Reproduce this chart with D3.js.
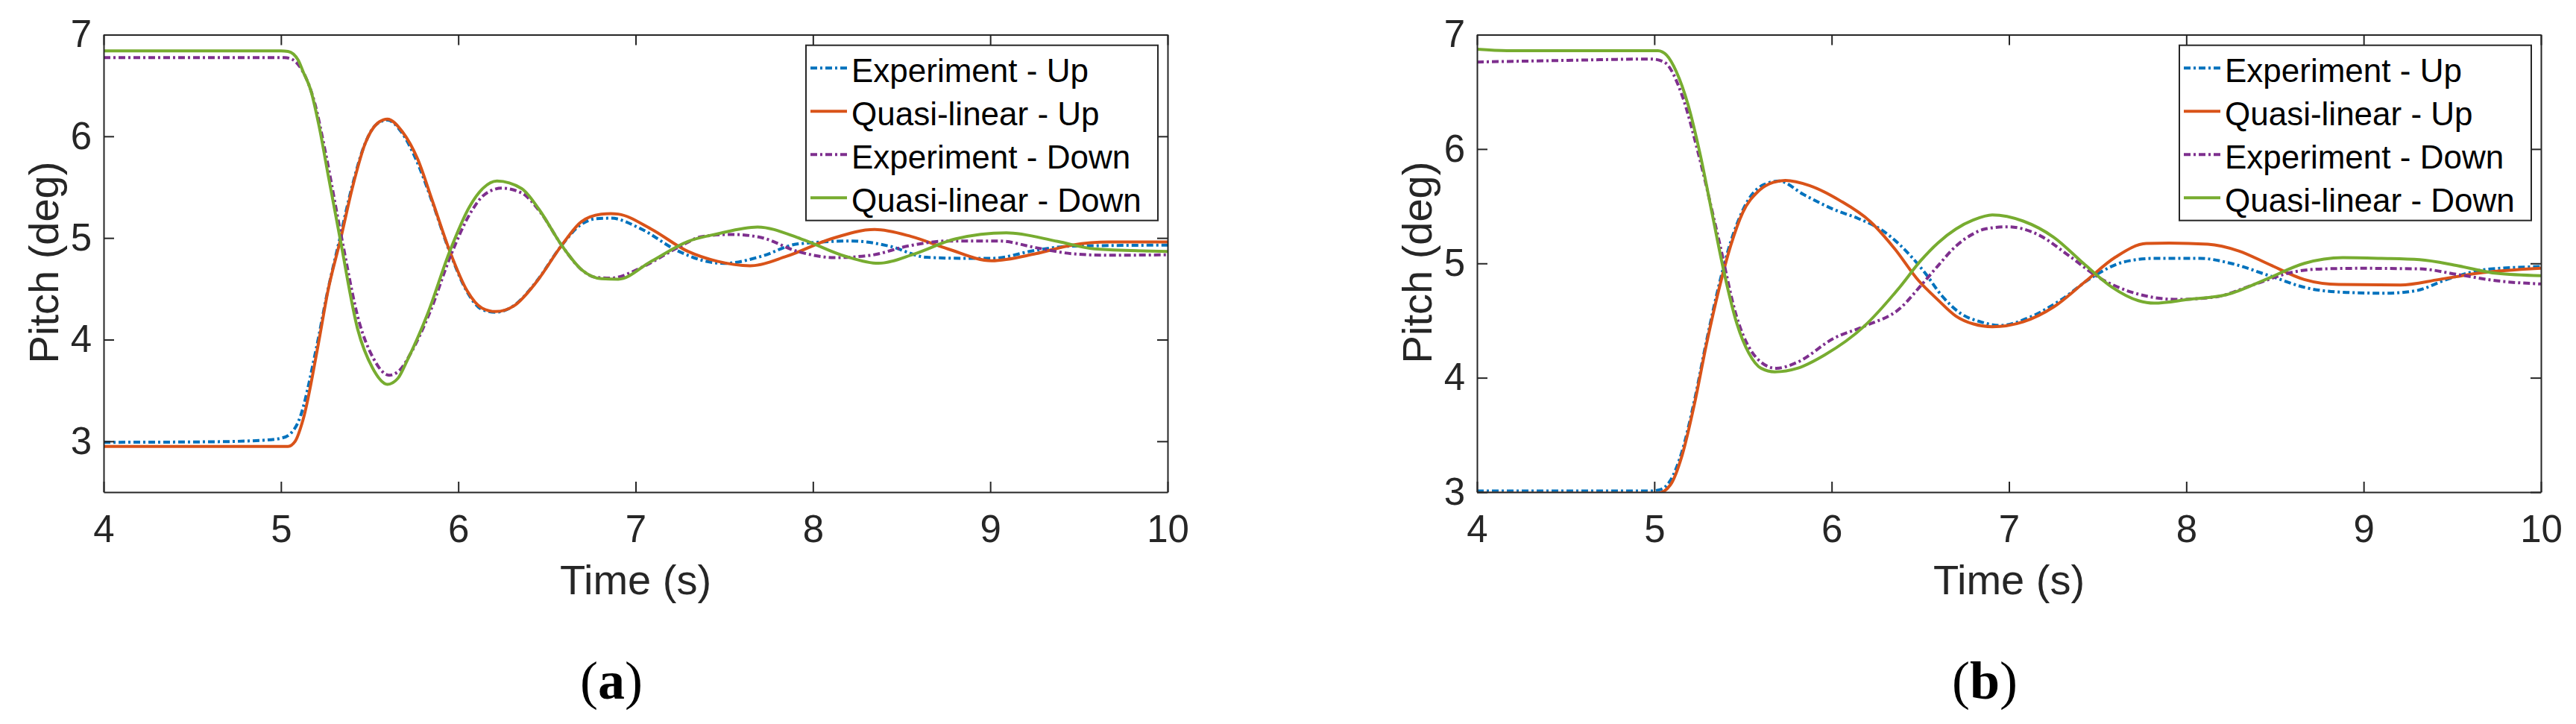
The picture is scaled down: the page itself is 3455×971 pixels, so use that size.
<!DOCTYPE html>
<html>
<head>
<meta charset="utf-8">
<script src="https://cdn.jsdelivr.net/npm/d3@7"></script>
<style>
  body { margin: 0; background: #fff; }
  svg { display: block; }
  .tick text { font-family: "Liberation Sans", Arial, sans-serif; fill: #262626; }
</style>
</head>
<body>
<div id="chart"></div>
<script>
// series names and tick values
var seriesNames = ['Experiment - Up', 'Quasi-linear - Up', 'Experiment - Down', 'Quasi-linear - Down'];
var xTicks = [4, 5, 6, 7, 8, 9, 10];
var yTicksA = [3, 4, 5, 6, 7];
var yTicksB = [3, 4, 5, 6, 7];
var panelLabels = ['a', 'b'];

// panel (a): [time (s), pitch (deg)]
var aExpUp = [[4, 2.99], [4.6, 2.995], [4.9, 3.01], [5.0, 3.03], [5.05, 3.07], [5.1, 3.2], [5.2, 3.92], [5.26, 4.45],
  [5.33, 4.98], [5.40, 5.5], [5.47, 5.91], [5.54, 6.12], [5.60, 6.16], [5.68, 6.04], [5.76, 5.78], [5.85, 5.37],
  [5.95, 4.87], [6.05, 4.47], [6.13, 4.30], [6.21, 4.27], [6.31, 4.33], [6.44, 4.57], [6.58, 4.92], [6.69, 5.13],
  [6.78, 5.19], [6.86, 5.195], [7.03, 5.09], [7.23, 4.88], [7.40, 4.77], [7.50, 4.75], [7.71, 4.82], [7.91, 4.94],
  [8.22, 4.97], [8.43, 4.92], [8.64, 4.81], [8.84, 4.80], [9.01, 4.80], [9.26, 4.88], [9.46, 4.92], [10, 4.93]];
var aQlUp = [[4, 2.95], [5.04, 2.95], [5.08, 3.0], [5.125, 3.215], [5.21, 3.95], [5.265, 4.48], [5.335, 4.98],
  [5.405, 5.51], [5.475, 5.93], [5.545, 6.13], [5.60, 6.17], [5.685, 6.045], [5.77, 5.78], [5.853, 5.37],
  [5.952, 4.87], [6.05, 4.48], [6.134, 4.31], [6.211, 4.276], [6.316, 4.335], [6.442, 4.57], [6.582, 4.925],
  [6.694, 5.16], [6.806, 5.234], [6.86, 5.24], [6.902, 5.235], [7.088, 5.088], [7.295, 4.868], [7.46, 4.771],
  [7.646, 4.727], [7.852, 4.82], [8.1, 4.99], [8.348, 5.083], [8.554, 5.015], [8.76, 4.893], [9.008, 4.776],
  [9.256, 4.845], [9.462, 4.93], [9.668, 4.96], [10, 4.96]];
var aExpDown = [[4, 6.775], [5.02, 6.775], [5.06, 6.76], [5.1, 6.70], [5.14, 6.58], [5.19, 6.33], [5.25, 5.85],
  [5.34, 5.02], [5.44, 4.18], [5.52, 3.82], [5.61, 3.65], [5.67, 3.70], [5.73, 3.86], [5.84, 4.27], [5.96, 4.84],
  [6.07, 5.25], [6.15, 5.43], [6.246, 5.49], [6.36, 5.44], [6.46, 5.26], [6.59, 4.91], [6.70, 4.68], [6.778, 4.612],
  [6.86, 4.605], [7.047, 4.722], [7.253, 4.92], [7.377, 5.015], [7.542, 5.035], [7.707, 5.005], [7.914, 4.868],
  [8.121, 4.807], [8.327, 4.83], [8.534, 4.92], [8.76, 4.97], [9.05, 4.97], [9.256, 4.905], [9.462, 4.845],
  [9.668, 4.83], [10, 4.835]];
var aQlDown = [[4, 6.84], [5.0, 6.84], [5.04, 6.835], [5.097, 6.75], [5.125, 6.635], [5.167, 6.46], [5.215, 6.1],
  [5.265, 5.63], [5.335, 4.98], [5.433, 4.10], [5.517, 3.72], [5.601, 3.56], [5.66, 3.62], [5.713, 3.80],
  [5.826, 4.25], [5.952, 4.87], [6.064, 5.31], [6.14, 5.49], [6.218, 5.56], [6.358, 5.485], [6.456, 5.28],
  [6.582, 4.93], [6.694, 4.69], [6.806, 4.60], [6.902, 4.595], [7.088, 4.77], [7.295, 4.966], [7.46, 5.04],
  [7.687, 5.108], [7.935, 4.99], [8.183, 4.82], [8.369, 4.751], [8.575, 4.845], [8.802, 4.99], [9.091, 5.05],
  [9.38, 4.966], [9.586, 4.893], [10, 4.868]];

// panel (b): [time (s), pitch (deg)]
var bExpUp = [[4, 3.01], [4.98, 3.01], [5.03, 3.02], [5.09, 3.1], [5.157, 3.36], [5.226, 3.8], [5.294, 4.32],
  [5.363, 4.8], [5.431, 5.19], [5.465, 5.341], [5.54, 5.58], [5.62, 5.69], [5.704, 5.72], [5.841, 5.603],
  [6.012, 5.472], [6.149, 5.393], [6.285, 5.289], [6.388, 5.157], [6.524, 4.922], [6.62, 4.72], [6.73, 4.56],
  [6.84, 4.489], [6.949, 4.457], [7.123, 4.533], [7.297, 4.685], [7.47, 4.88], [7.644, 5.011], [7.818, 5.044],
  [8.078, 5.044], [8.252, 5.0], [8.469, 4.892], [8.686, 4.783], [8.904, 4.746], [9.121, 4.739], [9.295, 4.761],
  [9.468, 4.859], [9.685, 4.946], [10, 4.972]];
var bQlUp = [[4, 2.99], [5.02, 2.99], [5.09, 3.062], [5.157, 3.324], [5.226, 3.769], [5.294, 4.293], [5.363, 4.765],
  [5.431, 5.157], [5.499, 5.446], [5.585, 5.629], [5.67, 5.708], [5.739, 5.726], [5.875, 5.681], [6.046, 5.55],
  [6.217, 5.367], [6.354, 5.131], [6.49, 4.85], [6.6, 4.68], [6.7, 4.54], [6.8, 4.47], [6.906, 4.446],
  [7.08, 4.489], [7.253, 4.62], [7.427, 4.837], [7.601, 5.055], [7.774, 5.174], [7.904, 5.178], [8.121, 5.168],
  [8.296, 5.109], [8.469, 4.99], [8.665, 4.859], [8.86, 4.815], [9.207, 4.811], [9.425, 4.859], [9.642, 4.913],
  [10, 4.957]];
var bExpDown = [[4, 6.761], [4.5, 6.775], [4.986, 6.787], [5.056, 6.76], [5.157, 6.467], [5.25, 5.95],
  [5.363, 5.21], [5.465, 4.529], [5.602, 4.136], [5.687, 4.083], [5.807, 4.136], [6.012, 4.345], [6.183, 4.45],
  [6.388, 4.61], [6.5, 4.80], [6.6, 4.98], [6.7, 5.15], [6.8, 5.26], [6.862, 5.30], [6.993, 5.32],
  [7.166, 5.25], [7.34, 5.065], [7.514, 4.87], [7.688, 4.75], [7.948, 4.685], [8.165, 4.707], [8.382, 4.815],
  [8.6, 4.924], [8.773, 4.952], [8.99, 4.957], [9.316, 4.952], [9.533, 4.902], [9.75, 4.848], [10, 4.82]];
var bQlDown = [[4, 6.873], [4.17, 6.86], [5.02, 6.86], [5.07, 6.82], [5.124, 6.677], [5.19, 6.389], [5.26, 5.943],
  [5.328, 5.42], [5.397, 4.896], [5.465, 4.476], [5.533, 4.215], [5.602, 4.083], [5.679, 4.052], [5.807, 4.083],
  [5.961, 4.2], [6.183, 4.45], [6.388, 4.80], [6.5, 5.02], [6.6, 5.18], [6.7, 5.30], [6.8, 5.38],
  [6.906, 5.424], [7.08, 5.37], [7.253, 5.228], [7.427, 4.99], [7.579, 4.794], [7.73, 4.674], [7.818, 4.652],
  [8.013, 4.685], [8.23, 4.728], [8.447, 4.859], [8.665, 5.0], [8.882, 5.05], [9.1, 5.044], [9.316, 5.033],
  [9.533, 4.979], [9.75, 4.913], [10, 4.892]];

var colors = ['#0072BD', '#D95319', '#7E2F8E', '#77AC30'];
var dashes = ['9,4,3,4', null, '9,4,3,4', null];
var axisColor = '#262626';
var font = '"Liberation Sans", Arial, Helvetica, sans-serif';

var panels = [
  { left: 139, yDomain: [2.5, 7], yTicks: yTicksA, series: [aExpUp, aQlUp, aExpDown, aQlDown], caption: panelLabels[0], captionX: 820 },
  { left: 1981, yDomain: [3, 7], yTicks: yTicksB, series: [bExpUp, bQlUp, bExpDown, bQlDown], caption: panelLabels[1], captionX: 2662 }
];

var plotW = 1427, plotTop = 46.5, plotBottom = 660;

var svg = d3.select('#chart')
  .append('svg')
  .attr('width', 3455)
  .attr('height', 971);

panels.forEach(function (p, pi) {
  var x = d3.scaleLinear().domain([4, 10]).range([p.left, p.left + plotW]);
  var y = d3.scaleLinear().domain(p.yDomain).range([plotBottom, plotTop]);
  var g = svg.append('g');

  g.append('clipPath').attr('id', 'clip' + pi)
    .append('rect')
    .attr('x', p.left).attr('y', plotTop)
    .attr('width', plotW).attr('height', plotBottom - plotTop);

  // data lines
  var line = d3.line()
    .x(function (d) { return x(d[0]); })
    .y(function (d) { return y(d[1]); })
    .curve(d3.curveMonotoneX);

  var lines = g.append('g').attr('clip-path', 'url(#clip' + pi + ')');
  p.series.forEach(function (s, i) {
    lines.append('path')
      .datum(s)
      .attr('d', line)
      .attr('fill', 'none')
      .attr('stroke', colors[i])
      .attr('stroke-width', 4)
      .attr('stroke-dasharray', dashes[i]);
  });

  // axes, ticks pointing inward on all four sides
  var fmt = d3.format('d');
  var xAxisB = g.append('g')
    .attr('transform', 'translate(0,' + plotBottom + ')')
    .call(d3.axisBottom(x).tickValues(xTicks).tickFormat(fmt).tickSizeInner(-14).tickSizeOuter(0).tickPadding(31));
  var xAxisT = g.append('g')
    .attr('transform', 'translate(0,' + plotTop + ')')
    .call(d3.axisTop(x).tickValues(xTicks).tickSizeInner(-14).tickSizeOuter(0).tickFormat(''));
  var yAxisL = g.append('g')
    .attr('transform', 'translate(' + p.left + ',0)')
    .call(d3.axisLeft(y).tickValues(p.yTicks).tickFormat(fmt).tickSizeInner(-14).tickSizeOuter(0).tickPadding(16));
  var yAxisR = g.append('g')
    .attr('transform', 'translate(' + (p.left + plotW) + ',0)')
    .call(d3.axisRight(y).tickValues(p.yTicks).tickSizeInner(-14).tickSizeOuter(0).tickFormat(''));

  [xAxisB, xAxisT, yAxisL, yAxisR].forEach(function (a) {
    a.select('.domain').attr('stroke', axisColor).attr('stroke-width', 2);
    a.selectAll('.tick line').attr('stroke', axisColor).attr('stroke-width', 2);
    a.selectAll('.tick text').attr('font-size', '51px').attr('font-family', font);
  });

  // axis titles
  g.append('text')
    .attr('x', p.left + plotW / 2)
    .attr('y', 797)
    .attr('text-anchor', 'middle')
    .attr('font-family', font)
    .attr('font-size', '56px')
    .attr('fill', axisColor)
    .text('Time (s)');
  g.append('text')
    .attr('transform', 'translate(' + (p.left - 61.5) + ',352) rotate(-90)')
    .attr('text-anchor', 'middle')
    .attr('font-family', font)
    .attr('font-size', '56px')
    .attr('fill', axisColor)
    .text('Pitch (deg)');

  // legend
  var lx = p.left + plotW - 485, ly = 60.7;
  var leg = g.append('g');
  leg.append('rect')
    .attr('x', lx).attr('y', ly)
    .attr('width', 472).attr('height', 235)
    .attr('fill', '#fff')
    .attr('stroke', axisColor)
    .attr('stroke-width', 2);
  seriesNames.forEach(function (name, i) {
    var base = ly + 49.5 + 58 * i;
    leg.append('line')
      .attr('x1', lx + 6).attr('x2', lx + 55)
      .attr('y1', base - 19).attr('y2', base - 19)
      .attr('stroke', colors[i])
      .attr('stroke-width', 4)
      .attr('stroke-dasharray', dashes[i]);
    leg.append('text')
      .attr('x', lx + 61).attr('y', base)
      .attr('font-family', font)
      .attr('font-size', '44px')
      .attr('fill', '#000')
      .text(name);
  });

  // panel caption
  var cap = g.append('text')
    .attr('x', p.captionX).attr('y', 937)
    .attr('text-anchor', 'middle')
    .attr('font-family', '"Liberation Serif", "Times New Roman", serif')
    .attr('font-size', '72px')
    .attr('fill', '#000');
  cap.append('tspan').text('(');
  cap.append('tspan').attr('font-weight', 'bold').text(p.caption);
  cap.append('tspan').text(')');
});
</script>
</body>
</html>
